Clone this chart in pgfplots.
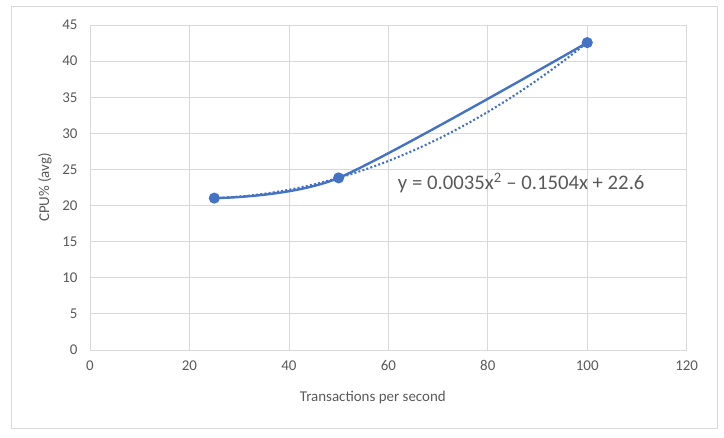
\documentclass[border=0pt]{standalone}
\usepackage{fontspec}
\setmainfont{Carlito}
\usepackage{pgfplots}
\pgfplotsset{compat=1.18}
\definecolor{excelblue}{HTML}{4472C4}
\definecolor{gridgray}{HTML}{D9D9D9}
\definecolor{txtgray}{HTML}{595959}
\begin{document}
\begin{tikzpicture}
\begin{axis}[
  name=ax,
  scale only axis,
  width=596.7bp, height=325bp,
  xmin=0, xmax=120, ymin=0, ymax=45,
  xtick={0,20,...,120}, ytick={0,5,...,45},
  major tick length=0pt,
  grid=major,
  major grid style={draw=gridgray, line width=0.8bp},
  axis line style={draw=gridgray, line width=0.8bp},
  /pgf/number format/assume math mode=true,
  tick label style={font=\fontsize{15}{17}\selectfont, text=txtgray},
  yticklabel style={xshift=-9bp},
  xticklabel style={yshift=-7bp},
  xlabel={Transactions per second},
  ylabel={CPU\% (avg)},
  label style={font=\fontsize{15}{17}\selectfont, text=txtgray},
  xlabel style={at={(axis description cs:0.474,-0.145)}, anchor=center},
  ylabel style={at={(axis description cs:-0.0754,0.5)}, anchor=center},
  clip=false,
]
\addplot[color=excelblue, line width=2.4bp, smooth, tension=0.45, mark=*, mark size=4.3bp, mark options={fill=excelblue, solid}]
  coordinates {(25,21.03) (50,23.83) (100,42.56)};
\addplot[color=excelblue, line width=2.1bp, dash pattern=on 2bp off 2.2bp, smooth, no markers]
  coordinates {
  (25,21.0275) (30,21.238) (35,21.6235) (40,22.184) (45,22.9195) (50,23.83)
  (55,24.9155) (60,26.176) (65,27.6115) (70,29.222) (75,31.0075) (80,32.968)
  (85,35.1035) (90,37.414) (95,39.8995) (100,42.56)};
\node[anchor=west, text=txtgray, font=\fontsize{20.8}{23}\selectfont, inner sep=0pt] at (axis cs:61.9,23.1)
  {y = 0.0035x\textsuperscript{2} – 0.1504x + 22.6};
\end{axis}
\draw[gridgray, line width=0.9bp] ([shift={(-79bp,-78bp)}]ax.south west) rectangle ([shift={(627bp,344bp)}]ax.south west);
\path[use as bounding box] ([shift={(-90bp,-88bp)}]ax.south west) rectangle ([shift={(634bp,350bp)}]ax.south west);
\end{tikzpicture}
\end{document}
